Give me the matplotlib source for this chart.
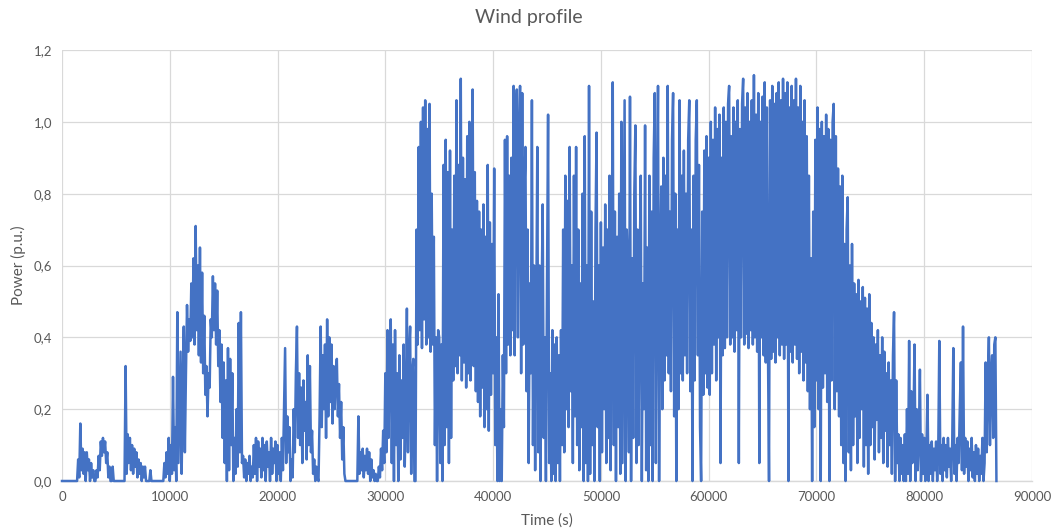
import numpy as np
import matplotlib
matplotlib.use("Agg")
import matplotlib.pyplot as plt
from matplotlib.ticker import MultipleLocator, FuncFormatter

# Wind power profile over one day, sampled every 100 s.
# Each list holds 5000 s of samples, values in hundredths of p.u.
SAMPLE_STEP = 100

power_00k = [0, 0, 0, 0, 0, 0, 0, 0, 0, 0, 0, 0, 0, 0, 0,
             6, 1, 16, 3, 9, 2, 8, 0, 8, 3,
             6, 0, 5, 1, 3, 0, 0, 3, 1, 7,
             3, 11, 7, 12, 8, 11, 5, 8, 1, 4,
             0, 0, 4, 0, 0]
power_05k = [0, 0, 0, 0, 0, 0, 0, 0, 0,
             32, 2, 13, 5, 12, 3, 10, 2, 9, 4,
             8, 1, 6, 2, 5, 0, 4, 1, 4, 0,
             0, 0, 0, 3, 0,
             0, 0, 0, 0, 0, 0, 0, 0, 0, 0, 0,
             5, 1, 8, 2, 12]
power_10k = [0, 10, 2, 29, 3, 15, 0, 47, 5, 20,
             36, 2, 25, 43, 8, 30, 49, 36, 45, 39,
             55, 40, 62, 38, 71, 42, 60, 35, 65, 33,
             58, 30, 46, 24, 32, 18, 30, 26, 45, 40,
             57, 42, 55, 38, 53, 32, 42, 22, 38, 12]
power_15k = [33, 5, 28, 0, 37, 3, 34, 10, 30, 0,
             12, 2, 20, 4, 44, 8, 47, 5, 7, 1,
             6, 0, 5, 2, 7, 0, 4, 1, 10, 2,
             12, 0, 11, 4, 9, 1, 12, 3, 10, 0,
             11, 4, 8, 0, 12, 2, 9, 5, 11, 0]
power_20k = [10, 2, 8, 0, 12, 3, 20, 37, 5, 18,
             8, 15, 0, 6, 1, 20, 8, 30, 43, 12,
             30, 10, 26, 5, 28, 14, 22, 6, 35, 10,
             32, 8, 14, 2, 6, 0, 4, 1, 0, 18,
             43, 15, 35, 20, 38, 12, 45, 18, 40, 22]
power_25k = [38, 16, 32, 20, 30, 34, 18, 27, 12, 22,
             6, 15, 2, 0, 0, 0, 0, 0, 0, 0,
             0, 0, 0, 0, 0, 18, 2, 8, 3, 9,
             1, 7, 3, 9, 2, 8, 0, 6, 1, 3,
             0, 2, 0, 0, 4, 1, 9, 3, 14, 5]
power_30k = [30, 8, 42, 12, 35, 45, 5, 38, 0, 42,
             10, 30, 0, 35, 6, 28, 12, 38, 4, 20,
             48, 8, 35, 43, 2, 30, 34, 0, 0, 70,
             38, 93, 42, 100, 37, 104, 45, 106, 38, 98,
             40, 105, 36, 80, 38, 68, 10, 40, 0, 42]
power_35k = [40, 5, 38, 0, 88, 10, 95, 15, 86, 5,
             92, 12, 70, 28, 85, 32, 106, 30, 88, 35,
             112, 28, 90, 33, 84, 26, 96, 30, 100, 28,
             82, 109, 32, 86, 25, 78, 22, 75, 18, 70,
             26, 77, 15, 68, 20, 88, 14, 72, 24, 66]
power_40k = [30, 87, 10, 40, 0, 52, 0, 20, 0, 35,
             15, 95, 30, 96, 38, 85, 35, 90, 42, 110,
             35, 100, 109, 40, 95, 110, 30, 108, 38, 80,
             93, 25, 70, 5, 55, 30, 106, 10, 60, 3,
             45, 93, 8, 60, 0, 50, 77, 12, 40, 0]
power_45k = [55, 102, 5, 30, 0, 42, 2, 38, 0, 40,
             5, 35, 0, 42, 10, 70, 8, 85, 20, 78,
             15, 93, 25, 60, 5, 85, 18, 93, 10, 70,
             3, 55, 15, 80, 0, 96, 5, 60, 0, 110,
             2, 75, 10, 50, 0, 70, 97, 15, 60, 0]
power_50k = [72, 8, 65, 20, 77, 5, 70, 12, 85, 3,
             60, 111, 10, 75, 0, 68, 15, 80, 2, 100,
             5, 55, 106, 0, 70, 59, 8, 107, 0, 62,
             12, 80, 99, 5, 70, 10, 60, 85, 0, 55,
             20, 99, 3, 65, 0, 85, 10, 75, 0, 90]
power_55k = [108, 5, 70, 110, 0, 60, 82, 20, 90, 28,
             85, 35, 110, 30, 75, 25, 95, 108, 18, 80,
             0, 70, 20, 106, 30, 85, 28, 92, 35, 80,
             30, 95, 106, 25, 70, 0, 85, 28, 95, 106,
             35, 88, 15, 0, 75, 24, 92, 30, 96, 26]
power_60k = [90, 24, 100, 30, 95, 38, 104, 28, 98, 40,
             102, 5, 90, 35, 104, 37, 100, 40, 105, 110,
             38, 96, 40, 104, 36, 100, 42, 106, 5, 98,
             40, 105, 112, 38, 104, 41, 108, 37, 100, 42,
             106, 38, 113, 40, 102, 36, 108, 5, 100, 40]
power_65k = [107, 35, 111, 33, 104, 38, 0, 106, 34, 110,
             36, 105, 33, 108, 40, 111, 35, 106, 38, 112,
             34, 108, 38, 111, 0, 104, 36, 110, 33, 106,
             38, 112, 34, 104, 30, 110, 36, 100, 28, 106,
             33, 96, 25, 85, 20, 62, 0, 75, 15, 95]
power_70k = [28, 104, 20, 98, 0, 100, 26, 96, 30, 102,
             22, 98, 0, 95, 28, 100, 105, 20, 96, 25,
             87, 18, 82, 10, 85, 5, 66, 0, 70, 79,
             8, 60, 3, 66, 10, 55, 18, 52, 5, 56,
             12, 50, 20, 54, 4, 51, 10, 48, 2, 52]
power_75k = [10, 44, 15, 40, 6, 38, 17, 42, 8, 35,
             12, 40, 5, 36, 14, 30, 4, 33, 10, 28,
             2, 35, 47, 0, 28, 5, 13, 0, 12, 2,
             10, 0, 13, 0, 20, 2, 39, 0, 25, 5,
             15, 38, 0, 20, 3, 12, 31, 0, 13, 2]
power_80k = [12, 0, 8, 24, 0, 10, 2, 11, 0, 9,
             3, 11, 0, 8, 39, 2, 10, 0, 12, 3,
             10, 1, 12, 4, 9, 0, 11, 37, 2, 10,
             0, 12, 5, 20, 33, 3, 43, 2, 12, 4,
             11, 0, 9, 3, 12, 1, 8, 0, 10, 2]
power_85k = [9, 0, 7, 2, 12, 0, 5, 33, 8, 28,
             40, 10, 30, 35, 12, 38, 40, 0]

segments = [
    (0, power_00k), (5000, power_05k), (10000, power_10k), (15000, power_15k),
    (20000, power_20k), (25000, power_25k), (30000, power_30k), (35000, power_35k),
    (40000, power_40k), (45000, power_45k), (50000, power_50k), (55000, power_55k),
    (60000, power_60k), (65000, power_65k), (70000, power_70k), (75000, power_75k),
    (80000, power_80k), (85000, power_85k),
]

time_s = np.concatenate([start + SAMPLE_STEP * np.arange(len(seg)) for start, seg in segments])
power_pu = np.concatenate([np.asarray(seg, dtype=float) / 100.0 for _, seg in segments])

x_ticks = [0, 10000, 20000, 30000, 40000, 50000, 60000, 70000, 80000, 90000]
y_ticks = [0.0, 0.2, 0.4, 0.6, 0.8, 1.0, 1.2]

FONT = ["Lato", "DejaVu Sans"]
TEXT = "#595959"
GRID = "#D9D9D9"
LINE = "#4472C4"

plt.rcParams["font.family"] = FONT

W, H = 1051, 531
fig = plt.figure(figsize=(W / 100, H / 100), dpi=100)
ax = fig.add_axes([62 / W, 1 - 481 / H, 970 / W, 431 / H])

ax.plot(time_s, power_pu, color=LINE, lw=1.8, clip_on=False, zorder=3)

ax.set_xlim(x_ticks[0], x_ticks[-1])
ax.set_ylim(y_ticks[0], y_ticks[-1])
ax.set_xticks(x_ticks)
ax.set_yticks(y_ticks)
ax.xaxis.set_major_formatter(FuncFormatter(lambda v, _: f"{int(v)}"))
ax.yaxis.set_major_formatter(FuncFormatter(lambda v, _: f"{v:.1f}".replace(".", ",")))

ax.grid(True, color=GRID, lw=0.9, zorder=0)
ax.set_axisbelow(True)
for side in ("top", "right", "left"):
    ax.spines[side].set_visible(False)
ax.spines["bottom"].set_color(GRID)
ax.spines["bottom"].set_linewidth(1.0)
ax.tick_params(length=0, labelsize=9.5, labelcolor=TEXT, pad=7)

fig.text(529 / W, 1 - 18 / H, "Wind profile", ha="center", va="center",
         fontsize=14, color=TEXT)
fig.text(18 / W, 1 - 265 / H, "Power (p.u.)", ha="center", va="center",
         rotation=90, fontsize=11, color=TEXT)
fig.text(547 / W, 1 - 521 / H, "Time (s)", ha="center", va="center",
         fontsize=11, color=TEXT)

fig.savefig("out.png", dpi=100)
